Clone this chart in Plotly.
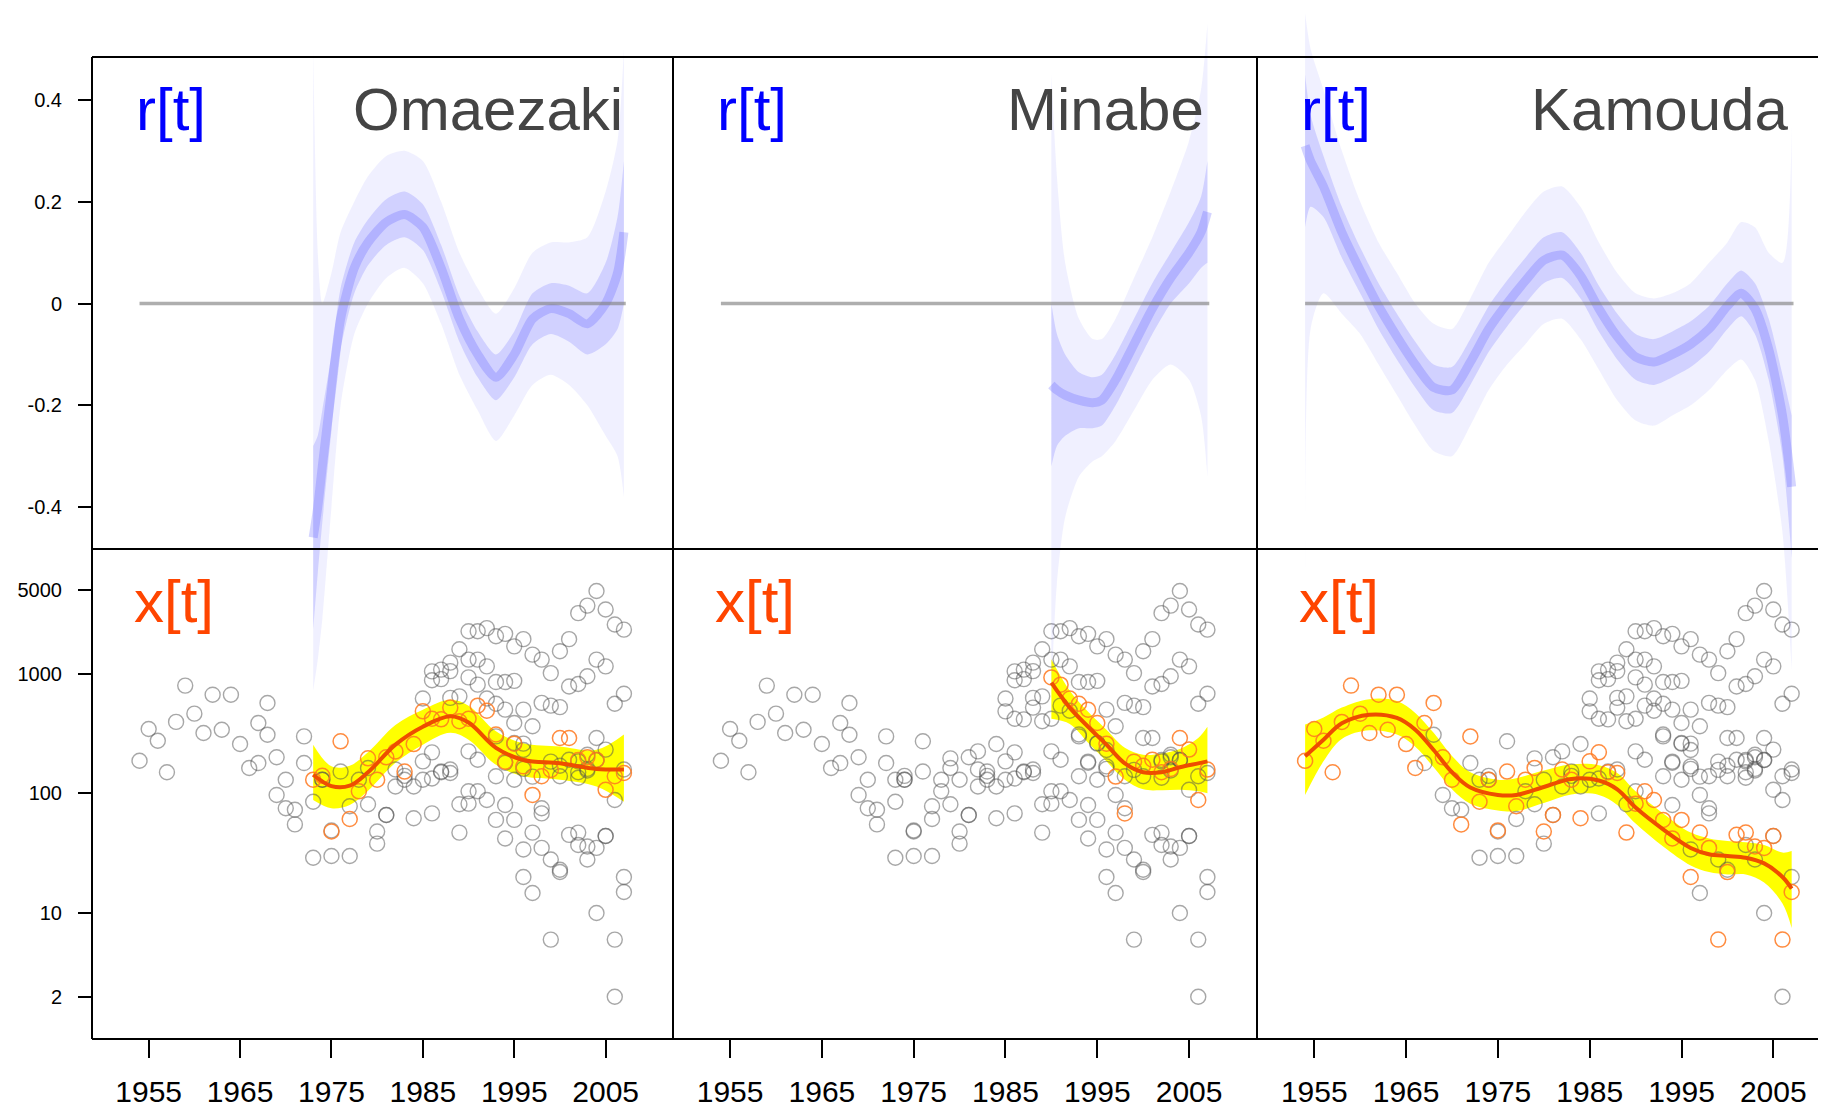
import plotly.graph_objects as go

# page is shown with the default 8px body margin, so the figure is drawn 8px smaller
# and every pixel position below is given in page coordinates
OFF = 8
W, H = 1826 - OFF, 1108 - OFF
FONT = "Liberation Sans, Arial, Helvetica, sans-serif"

site_names = ["Omaezaki", "Minabe", "Kamouda"]

# ---------------- nest counts x[t] (points) ----------------
oma_years = list(range(1973, 2008))
oma_counts = [130, 140, 48, 272, 61, 104, 196, 130, 200, 224,
              152, 258, 484, 420, 415, 520, 400, 420, 540, 490,
              310, 184, 260, 168, 97, 139, 157, 290, 290, 190,
              200, 190, 107, 139, 148]

min_years = list(range(1990, 2008))
min_counts = [930, 809, 620, 560, 500, 387, 260, 138, 68, 184,
              170, 191, 150, 160, 290, 232, 88, 158]

kam_years = list(range(1954, 2008))
kam_counts = [187, 345, 275, 150, 395, 794, 463, 319, 667, 340, 667, 258, 163, 387, 569,
              200, 130, 55, 299, 85, 130, 49, 152, 78, 130, 163, 48, 66, 158, 130,
              62, 185, 220, 150, 148, 47, 82, 104, 88, 60, 42, 60, 20, 47, 35,
              6, 22, 45, 47, 36, 35, 44, 6, 15]

# other sites (always grey)
other_years = [1967, 1968, 1969, 1970, 1971, 1972, 1973, 1974, 1975, 1977, 1979, 1980,
               1981, 1982, 1983, 1984, 1985, 1986, 1986, 1987, 1988, 1989, 1990, 1990,
               1991, 1993, 1993, 1994, 1994, 1995, 1995, 1996, 1996, 1996, 1997, 1998, 1999,
               2000, 2000, 2002, 2002, 2002, 2003, 2003, 2003, 2004, 2004, 2005, 2006, 2007,
               1985, 1986, 1986, 1987, 1987, 1988, 1988, 1988, 1989, 1989,
               1990, 1990, 1991, 1991, 1992, 1992, 1993, 1993, 1994, 1994, 1995, 1995,
               1996, 1996, 1997, 1997, 1998, 1998, 1999, 1999, 2000, 2000, 2001, 2001,
               2002, 2002, 2003, 2003, 2004, 2004, 2005, 2005, 2006, 2006, 2007, 2007]
other_counts = [179, 309, 97, 75, 73, 179, 29, 130, 30, 30, 81, 38,
                66, 114, 140, 114, 130, 68, 133, 152, 158, 81, 224, 104,
                191, 299, 139, 180, 80, 263, 130, 230, 160, 34, 14.7, 75, 28,
                139, 23, 185, 135, 37, 210, 155, 28, 190, 10, 44, 2, 20,
                620, 1045, 880, 1080, 900, 1050, 1235, 627, 1600, 646,
                2260, 1310, 2260, 1310, 2400, 1150, 2050, 850, 2150, 850, 1690, 870,
                1940, 500, 1440, 363, 1310, 570, 1010, 540, 1540, 525, 1940, 780,
                3200, 820, 3700, 950, 4900, 1310, 3430, 1150, 2570, 560, 2330, 680]

# ---------------- fitted x[t] (line + yellow band) ----------------
oma_fit_year = [1973, 1975, 1977, 1979, 1982, 1985, 1988, 1990, 1993, 1996, 2000, 2004, 2007]
oma_fit_mid = [143, 115, 116, 150, 255, 360, 440, 390, 240, 190, 178, 160, 158]
oma_fit_lo = [88, 75, 80, 105, 180, 255, 320, 280, 173, 139, 130, 114, 85]
oma_fit_hi = [255, 168, 170, 220, 372, 500, 605, 540, 330, 262, 246, 231, 310]

min_fit_year = [1990, 1992, 1994, 1996, 1998, 2000, 2002, 2004, 2006, 2007]
min_fit_mid = [840, 520, 360, 255, 178, 150, 150, 165, 178, 185]
min_fit_lo = [420, 380, 265, 185, 130, 108, 106, 107, 104, 100]
min_fit_hi = [1320, 720, 480, 340, 240, 210, 215, 235, 290, 360]

kam_fit_year = [1954, 1956, 1958, 1961, 1964, 1966, 1968, 1970, 1972, 1975, 1977, 1980,
                1983, 1986, 1988, 1990, 1993, 1996, 1998, 2000, 2002, 2004, 2006, 2007]
kam_fit_mid = [204, 280, 385, 454, 426, 340, 230, 150, 112, 97, 97, 113,
               132, 128, 108, 76, 50, 35, 31, 30, 29, 26, 20, 16]
kam_fit_lo = [97, 185, 285, 336, 310, 245, 165, 108, 82, 72, 71, 83,
              98, 97, 80, 56, 36, 25, 22, 21, 21, 18, 12, 7.5]
kam_fit_hi = [375, 430, 520, 612, 590, 470, 320, 205, 150, 130, 134, 155,
              175, 172, 148, 104, 68, 47, 42, 40, 39, 37, 32, 33]

# ---------------- growth rate r[t] (posterior cloud) ----------------
oma_r_year = [1973.0, 1973.5, 1974.0, 1975.0, 1976.0, 1977.5, 1979.0, 1981.0, 1983.0, 1985.0, 1987.0,
              1989.0, 1991.0, 1993.0, 1995.0, 1997.0, 1999.0, 2001.0, 2003.0, 2005.0, 2006.3, 2007.0]
oma_r_mid = [-0.46, -0.40, -0.32, -0.17, -0.03, 0.07, 0.12, 0.16, 0.175, 0.15, 0.07,
             -0.03, -0.10, -0.145, -0.10, -0.03, -0.01, -0.02, -0.04, 0.0, 0.06, 0.14]
oma_r_lo50 = [-0.64, -0.53, -0.43, -0.25, -0.09, 0.02, 0.075, 0.115, 0.13, 0.105, 0.025,
              -0.075, -0.145, -0.19, -0.145, -0.08, -0.06, -0.075, -0.10, -0.08, -0.05, 0.0]
oma_r_hi50 = [-0.28, -0.26, -0.21, -0.10, 0.03, 0.12, 0.165, 0.205, 0.22, 0.195, 0.115,
              0.015, -0.055, -0.10, -0.055, 0.02, 0.04, 0.035, 0.02, 0.08, 0.17, 0.28]
oma_r_lo95 = [-0.76, -0.70, -0.62, -0.40, -0.20, -0.06, 0.0, 0.05, 0.07, 0.04, -0.04,
              -0.14, -0.21, -0.27, -0.22, -0.16, -0.14, -0.16, -0.20, -0.26, -0.30, -0.38]
oma_r_hi95 = [0.50, 0.10, 0.00, 0.06, 0.14, 0.20, 0.25, 0.29, 0.30, 0.28, 0.20,
              0.10, 0.03, -0.02, 0.03, 0.10, 0.12, 0.12, 0.13, 0.22, 0.32, 0.50]

min_r_year = [1990.0, 1990.6, 1991.5, 1993.0, 1994.5, 1995.5, 1997.0, 1999.0, 2001.0, 2003.0, 2005.0, 2006.3, 2007.0]
min_r_mid = [-0.16, -0.17, -0.18, -0.19, -0.195, -0.19, -0.15, -0.08, -0.01, 0.05, 0.10, 0.14, 0.18]
min_r_lo50 = [-0.32, -0.28, -0.26, -0.245, -0.245, -0.24, -0.20, -0.13, -0.06, 0.0, 0.04, 0.07, 0.08]
min_r_hi50 = [0.0, -0.06, -0.10, -0.135, -0.145, -0.14, -0.10, -0.03, 0.04, 0.10, 0.16, 0.21, 0.28]
min_r_lo95 = [-0.76, -0.55, -0.42, -0.34, -0.31, -0.30, -0.27, -0.21, -0.15, -0.12, -0.15, -0.22, -0.34]
min_r_hi95 = [0.45, 0.25, 0.08, -0.03, -0.07, -0.07, -0.03, 0.05, 0.13, 0.22, 0.32, 0.42, 0.55]

kam_r_year = [1954.0, 1954.6, 1956, 1958, 1960, 1962, 1964, 1966, 1968, 1970, 1972, 1974, 1976, 1978, 1980,
              1982, 1984, 1986, 1988, 1990, 1992, 1994, 1996, 1998, 2000, 2001.5, 2003, 2004.5, 2006, 2007]
kam_r_mid = [0.31, 0.28, 0.23, 0.14, 0.065, -0.005, -0.065, -0.12, -0.165, -0.17, -0.115, -0.05, 0.0, 0.045, 0.085,
             0.095, 0.055, -0.01, -0.065, -0.105, -0.115, -0.10, -0.08, -0.05, -0.005, 0.02, -0.01, -0.09, -0.22, -0.36]
kam_r_lo50 = [0.15, 0.19, 0.17, 0.09, 0.02, -0.05, -0.11, -0.165, -0.21, -0.215, -0.16, -0.095, -0.045, 0.0, 0.04,
              0.05, 0.01, -0.055, -0.11, -0.15, -0.16, -0.145, -0.125, -0.095, -0.05, -0.025, -0.06, -0.15, -0.30, -0.50]
kam_r_hi50 = [0.45, 0.37, 0.29, 0.19, 0.11, 0.04, -0.02, -0.075, -0.12, -0.125, -0.07, -0.005, 0.045, 0.09, 0.13,
              0.14, 0.10, 0.035, -0.02, -0.06, -0.07, -0.055, -0.035, -0.005, 0.04, 0.065, 0.04, -0.03, -0.14, -0.22]
kam_r_lo95 = [-0.55, -0.05, 0.02, -0.02, -0.06, -0.12, -0.18, -0.24, -0.29, -0.30, -0.24, -0.17, -0.12, -0.08, -0.04,
              -0.03, -0.07, -0.13, -0.19, -0.23, -0.24, -0.22, -0.20, -0.17, -0.13, -0.11, -0.15, -0.27, -0.45, -0.72]
kam_r_hi95 = [0.57, 0.50, 0.42, 0.30, 0.20, 0.12, 0.06, 0.0, -0.04, -0.05, 0.01, 0.08, 0.13, 0.18, 0.22,
              0.23, 0.19, 0.12, 0.06, 0.02, 0.01, 0.02, 0.04, 0.08, 0.12, 0.16, 0.15, 0.10, 0.08, 0.35]

zero_span = [1954, 2007.2]
year_ticks = [1955, 1965, 1975, 1985, 1995, 2005]
r_ticks = [-0.4, -0.2, 0, 0.2, 0.4]
r_ticktext = ["-0.4", "-0.2", "0", "0.2", "0.4"]
x_ticks = [2, 10, 100, 1000, 5000]
x_ticktext = ["2", "10", "100", "1000", "5000"]

sites = [
    dict(name=site_names[0], years=oma_years, counts=oma_counts,
         fit=(oma_fit_year, oma_fit_mid, oma_fit_lo, oma_fit_hi),
         r=(oma_r_year, oma_r_mid, oma_r_lo50, oma_r_hi50, oma_r_lo95, oma_r_hi95)),
    dict(name=site_names[1], years=min_years, counts=min_counts,
         fit=(min_fit_year, min_fit_mid, min_fit_lo, min_fit_hi),
         r=(min_r_year, min_r_mid, min_r_lo50, min_r_hi50, min_r_lo95, min_r_hi95)),
    dict(name=site_names[2], years=kam_years, counts=kam_counts,
         fit=(kam_fit_year, kam_fit_mid, kam_fit_lo, kam_fit_hi),
         r=(kam_r_year, kam_r_mid, kam_r_lo50, kam_r_hi50, kam_r_lo95, kam_r_hi95)),
]

# panel geometry (page pixels)
col_px = [(92, 673), (673, 1257), (1257, 1826)]
x_ranges = [[1948.80, 2012.37], [1948.78, 2012.40], [1948.76, 2010.74]]
TOP, MID, BOT = 57, 549, 1039
R_RANGE = [-0.4825, 0.4845]
LOG_RANGE = [-0.052, 4.041]


def fy(px):
    return 1 - (px - OFF) / H


def fx(px):
    return (px - OFF) / W


# full-height axis for the r[t] cloud, same scale as the top panel
r_scale = (MID - TOP) / (R_RANGE[1] - R_RANGE[0])
r_full = [R_RANGE[1] - (OFF + H - TOP) / r_scale, R_RANGE[1] + (TOP - OFF) / r_scale]

fig = go.Figure()

for i, s in enumerate(sites):
    c = i + 1
    xa = "x" if c == 1 else f"x{c}"
    yb = "y" if c == 1 else f"y{c}"
    yr = f"y{c + 6}"

    # ---- x[t] panel ----
    fyr, fmid, flo, fhi = s["fit"]
    fig.add_trace(go.Scatter(x=fyr, y=flo, mode="lines", line=dict(width=0, shape="spline", color="#ffff00"),
                             xaxis=xa, yaxis=yb, hoverinfo="skip"))
    fig.add_trace(go.Scatter(x=fyr, y=fhi, mode="lines", fill="tonexty", fillcolor="#ffff00",
                             line=dict(width=0, shape="spline", color="#ffff00"),
                             xaxis=xa, yaxis=yb, hoverinfo="skip"))

    gx, gy = list(other_years), list(other_counts)
    for j, o in enumerate(sites):
        if j != i:
            gx += o["years"]
            gy += o["counts"]
    fig.add_trace(go.Scatter(x=gx, y=gy, mode="markers",
                             marker=dict(symbol="circle-open", size=15, color="rgba(80,80,80,0.5)",
                                         line=dict(width=1.4)),
                             xaxis=xa, yaxis=yb, hoverinfo="skip"))
    fig.add_trace(go.Scatter(x=s["years"], y=s["counts"], mode="markers",
                             marker=dict(symbol="circle-open", size=15, color="rgba(255,120,30,0.85)",
                                         line=dict(width=1.5)),
                             xaxis=xa, yaxis=yb, hoverinfo="skip"))
    fig.add_trace(go.Scatter(x=fyr, y=fmid, mode="lines",
                             line=dict(width=4, shape="spline", color="rgb(238,78,0)"),
                             xaxis=xa, yaxis=yb, hoverinfo="skip"))

    # ---- r[t] cloud (full-height axis so it can spill over the frame) ----
    ry, rmid, rlo50, rhi50, rlo95, rhi95 = s["r"]
    fig.add_trace(go.Scatter(x=ry, y=rlo95, mode="lines", line=dict(width=0, shape="spline", smoothing=0.7),
                             xaxis=xa, yaxis=yr, hoverinfo="skip"))
    fig.add_trace(go.Scatter(x=ry, y=rhi95, mode="lines", fill="tonexty", fillcolor="rgba(110,110,255,0.10)",
                             line=dict(width=0, shape="spline", smoothing=0.7),
                             xaxis=xa, yaxis=yr, hoverinfo="skip"))
    fig.add_trace(go.Scatter(x=ry, y=rlo50, mode="lines", line=dict(width=0, shape="spline", smoothing=0.7),
                             xaxis=xa, yaxis=yr, hoverinfo="skip"))
    fig.add_trace(go.Scatter(x=ry, y=rhi50, mode="lines", fill="tonexty", fillcolor="rgba(100,100,255,0.22)",
                             line=dict(width=0, shape="spline", smoothing=0.7),
                             xaxis=xa, yaxis=yr, hoverinfo="skip"))
    fig.add_trace(go.Scatter(x=ry, y=rmid, mode="lines",
                             line=dict(width=9, shape="spline", smoothing=0.7, color="rgba(90,90,255,0.26)"),
                             xaxis=xa, yaxis=yr, hoverinfo="skip"))
    fig.add_trace(go.Scatter(x=zero_span, y=[0, 0], mode="lines",
                             line=dict(width=3.5, color="rgba(130,130,130,0.65)"),
                             xaxis=xa, yaxis=yr, hoverinfo="skip"))

# dummy trace so the left r[t] tick axis is drawn
fig.add_trace(go.Scatter(x=[None], y=[None], xaxis="x", yaxis="y4", hoverinfo="skip"))

layout = dict(width=W, height=H, margin=dict(l=0, r=0, t=0, b=0, pad=0),
              paper_bgcolor="white", plot_bgcolor="rgba(0,0,0,0)",
              showlegend=False, hovermode=False, font=dict(family=FONT, color="black"))

for i in range(3):
    c = i + 1
    xk = "xaxis" if c == 1 else f"xaxis{c}"
    xn = "x" if c == 1 else f"x{c}"
    ybk = "yaxis" if c == 1 else f"yaxis{c}"
    yn = "y" if c == 1 else f"y{c}"
    l, r = col_px[i]
    layout[xk] = dict(domain=[fx(l), min(fx(r), 1.0)], range=x_ranges[i], anchor=yn,
                      tickmode="array", tickvals=year_ticks, ticks="outside", ticklen=18, tickwidth=2,
                      tickcolor="black", showgrid=False, zeroline=False, showline=False,
                      tickfont=dict(size=30, color="black", family=FONT), ticklabelstandoff=8)
    layout[ybk] = dict(domain=[fy(BOT), fy(MID)], type="log", range=LOG_RANGE, anchor=xn,
                       showgrid=False, zeroline=False, showline=False,
                       tickmode="array", tickvals=x_ticks, ticktext=x_ticktext,
                       ticks="outside" if c == 1 else "", showticklabels=(c == 1),
                       ticklen=13, tickwidth=2, tickcolor="black",
                       tickfont=dict(size=20, color="black", family=FONT), ticklabelstandoff=12)
    layout[f"yaxis{c + 6}"] = dict(domain=[0, 1], range=r_full, anchor=xn, visible=False,
                                   showgrid=False, zeroline=False)

layout["yaxis4"] = dict(domain=[fy(MID), fy(TOP)], range=R_RANGE, anchor="x",
                        showgrid=False, zeroline=False, showline=False,
                        tickmode="array", tickvals=r_ticks, ticktext=r_ticktext,
                        ticks="outside", ticklen=13, tickwidth=2, tickcolor="black",
                        tickfont=dict(size=20, color="black", family=FONT), ticklabelstandoff=12)

# panel frame
shapes = []
for ypx in (TOP, MID, BOT):
    shapes.append(dict(type="line", xref="paper", yref="paper", x0=fx(92), x1=1.0, y0=fy(ypx), y1=fy(ypx),
                       line=dict(color="black", width=2)))
for xpx in (92, 673, 1257):
    shapes.append(dict(type="line", xref="paper", yref="paper", x0=fx(xpx), x1=fx(xpx), y0=fy(TOP), y1=fy(BOT),
                       line=dict(color="black", width=2)))
layout["shapes"] = shapes

anns = []
for i, s in enumerate(sites):
    l = col_px[i][0]
    anns.append(dict(text="r[t]", xref="paper", yref="paper", x=fx(l + 42), y=fy(145),
                     xanchor="left", yanchor="bottom", showarrow=False,
                     font=dict(size=60, color="#0000ff", family=FONT)))
    anns.append(dict(text=s["name"], xref="paper", yref="paper", x=fx(l + 533), y=fy(145),
                     xanchor="right", yanchor="bottom", showarrow=False,
                     font=dict(size=60, color="#444444", family=FONT)))
    anns.append(dict(text="x[t]", xref="paper", yref="paper", x=fx(l + 40), y=fy(637),
                     xanchor="left", yanchor="bottom", showarrow=False,
                     font=dict(size=60, color="#ff4500", family=FONT)))
layout["annotations"] = anns

fig.update_layout(**layout)
fig.write_html("out.html")
